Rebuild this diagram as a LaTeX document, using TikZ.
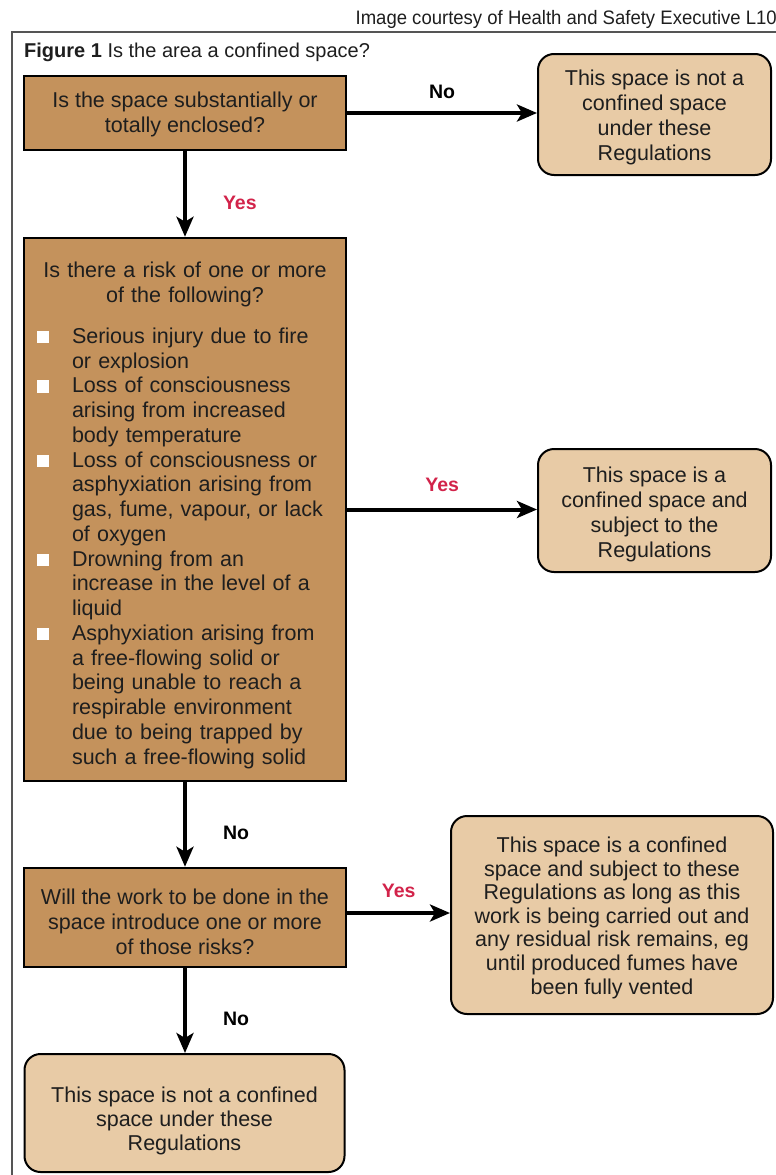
\documentclass[tikz,border=0pt]{standalone}
\usepackage{fontspec}
\setmainfont{Liberation Sans}
\newfontfamily\creditfont[FakeStretch=0.95]{Liberation Sans}
\usetikzlibrary{arrows.meta}
\newcommand{\sqbul}{\textcolor{white}{\rule{12.5pt}{12.5pt}}}
\newcommand{\padtop}[1]{\rule{0pt}{#1}}

\begin{document}
\begin{tikzpicture}[x=1pt,y=-1pt,
  qbox/.style={draw=black,line width=2.5pt,fill=boxbrown,minimum width=322pt,inner sep=0pt,text=inkgray,font=\fontsize{21.5}{25}\selectfont},
  ansbox/.style={draw=black,line width=2pt,fill=boxtan,rounded corners=16pt,inner sep=0pt,align=center,text=inkgray,font=\fontsize{21.5}{25}\selectfont},
  flow/.style={line width=4pt,-{Stealth[length=20pt,width=17pt,inset=5pt]}},
  yeslbl/.style={font=\bfseries\fontsize{19.5}{22}\selectfont,text=yesred,inner sep=0pt},
  nolbl/.style={font=\bfseries\fontsize{19.5}{22}\selectfont,text=black,inner sep=0pt}]
\definecolor{boxbrown}{HTML}{C4925C}
\definecolor{boxtan}{HTML}{E8CBA6}
\definecolor{inkgray}{HTML}{1E1E1E}
\definecolor{yesred}{HTML}{D2234A}
\definecolor{framegray}{HTML}{555555}
\useasboundingbox (0,0) rectangle (776,1175);
\draw[framegray,line width=2pt] (12,1175) -- (12,32) -- (776,32);
\node[anchor=base east,inner sep=0pt,text=inkgray,font=\creditfont\fontsize{19.5}{22}\selectfont] (credit) at (777,24) {Image courtesy of Health and Safety Executive L10};
\node[anchor=base west,inner sep=0pt,text=inkgray,font=\fontsize{20}{24}\selectfont] (caption) at (24,57) {\textbf{Figure 1} Is the area a confined space?};

\node[qbox,align=center,minimum height=74pt] (enclosed) at (185,113) {\padtop{19pt}Is the space substantially or\\totally enclosed?};
\node[qbox,text width=296pt,minimum height=543pt,font=\fontsize{21.5}{24.75}\selectfont] (risk) at (185,509.5) {%
  {\centering\padtop{30pt}Is there a risk of one or more\par of the following?\par}
  \vspace{16.5pt}
  \noindent\begin{tabular}[t]{@{}p{35pt}@{}l@{}}
  \sqbul & Serious injury due to fire\\
   & or explosion\\
  \sqbul & Loss of consciousness\\
   & arising from increased\\
   & body temperature\\
  \sqbul & Loss of consciousness or\\
   & asphyxiation arising from\\
   & gas, fume, vapour, or lack\\
   & of oxygen\\
  \sqbul & Drowning from an\\
   & increase in the level of a\\
   & liquid\\
  \sqbul & Asphyxiation arising from\\
   & a free-flowing solid or\\
   & being unable to reach a\\
   & respirable environment\\
   & due to being trapped by\\
   & such a free-flowing solid
  \end{tabular}};
\node[qbox,align=center,minimum height=99pt] (work) at (185,917.5) {\padtop{24pt}Will the work to be done in the\\space introduce one or more\\of those risks?};

\node[ansbox,minimum width=233pt,minimum height=121pt] (notconf) at (654.5,114.5) {\padtop{22pt}This space is not a\\confined space\\under these\\Regulations};
\node[ansbox,minimum width=233pt,minimum height=123pt] (isconf) at (654.5,510.5) {\padtop{24pt}This space is a\\confined space and\\subject to the\\Regulations};
\node[ansbox,minimum width=322pt,minimum height=198pt,font=\fontsize{21.5}{23.6}\selectfont] (whilework) at (612,915) {\padtop{21pt}This space is a confined\\space and subject to these\\Regulations as long as this\\work is being carried out and\\any residual risk remains, eg\\until produced fumes have\\been fully vented};
\node[ansbox,minimum width=320pt,minimum height=118pt,font=\fontsize{21.5}{24}\selectfont] (notconfb) at (184.5,1113) {\padtop{31pt}This space is not a confined\\space under these\\Regulations};

\draw[flow] (enclosed.east) -- (enclosed.east -| notconf.west) node[nolbl,midway,above=12pt] {No};
\draw[flow] (enclosed) -- (risk) node[yeslbl,pos=0.6,right=36pt] {Yes};
\draw[flow] (risk.east) -- (risk.east -| isconf.west) node[yeslbl,midway,above=16pt] {Yes};
\draw[flow] (risk) -- (work) node[nolbl,pos=0.6,right=36pt] {No};
\draw[flow] ([yshift=4.5pt]work.east) -- ([yshift=4.5pt]work.east -| whilework.west) node[yeslbl,midway,above=13pt] {Yes};
\draw[flow] (work.south) -- (work.south |- notconfb.north) node[nolbl,pos=0.6,right=36pt] {No};
\end{tikzpicture}
\end{document}
